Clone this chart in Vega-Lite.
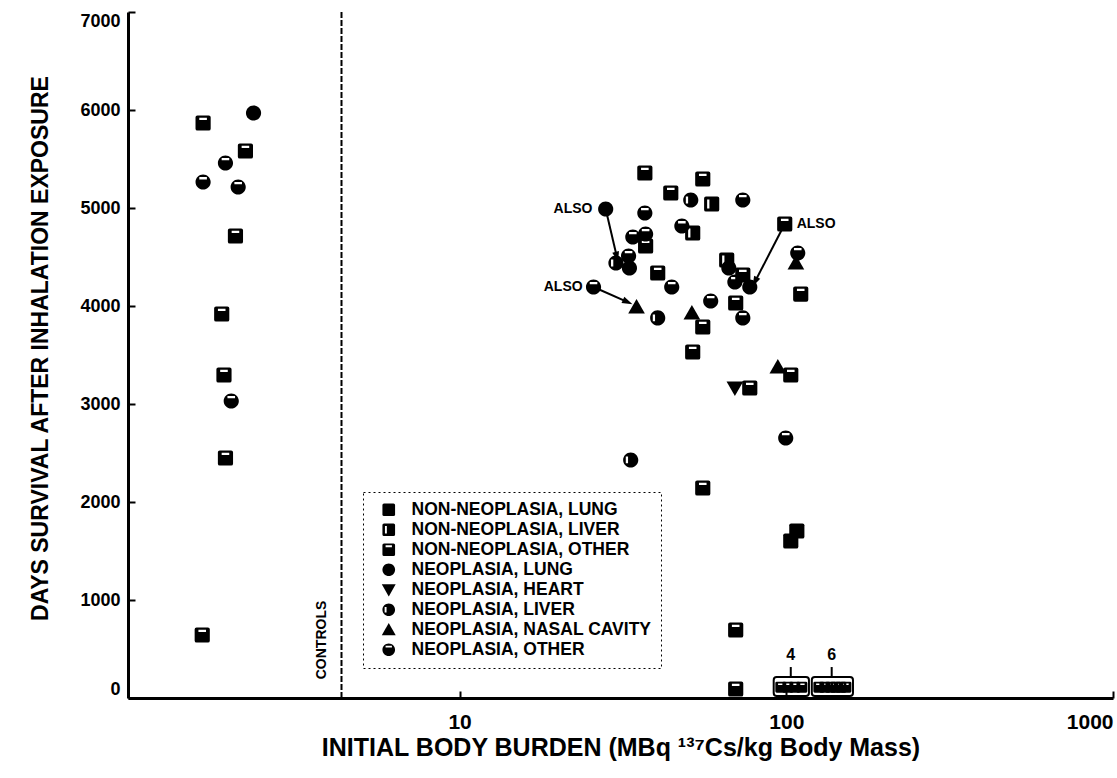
{
  "$schema": "https://vega.github.io/schema/vega-lite/v6.json",
  "width": 985,
  "height": 686,
  "autosize": {"type": "none"},
  "padding": {"left": 128, "top": 12, "right": 4, "bottom": 80},
  "background": "white",
  "config": {
    "font": "Liberation Sans",
    "view": {"stroke": null},
    "axis": {
      "domainColor": "#000", "domainWidth": 3, "tickColor": "#000", "tickWidth": 2, "tickSize": -7,
      "labelFont": "Liberation Sans", "labelFontWeight": "bold", "labelColor": "#000",
      "titleFont": "Liberation Sans", "titleFontWeight": "bold", "titleFontSize": 23, "titleColor": "#000",
      "grid": false, "labelFlush": true
    },
    "axisX": {"labelFontSize": 21},
    "axisY": {"labelFontSize": 18},
    "legend": {"strokeDash": [2, 3]}
  },
  "datasets": {
    "points": [
      {"dose": 1.64, "days": 5867, "cause": "NON-NEOPLASIA, OTHER"},
      {"dose": 2.34, "days": 5969, "cause": "NEOPLASIA, LUNG"},
      {"dose": 2.21, "days": 5582, "cause": "NON-NEOPLASIA, OTHER"},
      {"dose": 1.92, "days": 5459, "cause": "NEOPLASIA, OTHER"},
      {"dose": 1.64, "days": 5265, "cause": "NEOPLASIA, OTHER"},
      {"dose": 2.10, "days": 5214, "cause": "NEOPLASIA, OTHER"},
      {"dose": 2.06, "days": 4714, "cause": "NON-NEOPLASIA, OTHER"},
      {"dose": 1.87, "days": 3918, "cause": "NON-NEOPLASIA, OTHER"},
      {"dose": 1.90, "days": 3296, "cause": "NON-NEOPLASIA, OTHER"},
      {"dose": 2.00, "days": 3031, "cause": "NEOPLASIA, OTHER"},
      {"dose": 1.92, "days": 2449, "cause": "NON-NEOPLASIA, OTHER"},
      {"dose": 1.63, "days": 643, "cause": "NON-NEOPLASIA, OTHER"},
      {"dose": 36.9, "days": 5357, "cause": "NON-NEOPLASIA, OTHER"},
      {"dose": 55.5, "days": 5296, "cause": "NON-NEOPLASIA, OTHER"},
      {"dose": 44.3, "days": 5153, "cause": "NON-NEOPLASIA, OTHER"},
      {"dose": 51.0, "days": 5082, "cause": "NEOPLASIA, LIVER"},
      {"dose": 59.1, "days": 5041, "cause": "NON-NEOPLASIA, LIVER"},
      {"dose": 73.6, "days": 5082, "cause": "NEOPLASIA, OTHER"},
      {"dose": 28.0, "days": 4990, "cause": "NEOPLASIA, LUNG"},
      {"dose": 36.9, "days": 4949, "cause": "NEOPLASIA, OTHER"},
      {"dose": 98.9, "days": 4837, "cause": "NON-NEOPLASIA, OTHER"},
      {"dose": 47.9, "days": 4816, "cause": "NEOPLASIA, OTHER"},
      {"dose": 51.7, "days": 4745, "cause": "NON-NEOPLASIA, LIVER"},
      {"dose": 33.9, "days": 4704, "cause": "NEOPLASIA, OTHER"},
      {"dose": 37.1, "days": 4735, "cause": "NEOPLASIA, OTHER"},
      {"dose": 37.1, "days": 4612, "cause": "NON-NEOPLASIA, OTHER"},
      {"dose": 30.1, "days": 4439, "cause": "NEOPLASIA, LIVER"},
      {"dose": 32.9, "days": 4510, "cause": "NEOPLASIA, OTHER"},
      {"dose": 33.1, "days": 4388, "cause": "NEOPLASIA, LUNG"},
      {"dose": 40.4, "days": 4337, "cause": "NON-NEOPLASIA, OTHER"},
      {"dose": 44.6, "days": 4194, "cause": "NEOPLASIA, OTHER"},
      {"dose": 25.7, "days": 4194, "cause": "NEOPLASIA, OTHER"},
      {"dose": 34.8, "days": 3990, "cause": "NEOPLASIA, NASAL CAVITY"},
      {"dose": 40.4, "days": 3878, "cause": "NEOPLASIA, LIVER"},
      {"dose": 51.4, "days": 3929, "cause": "NEOPLASIA, NASAL CAVITY"},
      {"dose": 55.5, "days": 3786, "cause": "NON-NEOPLASIA, OTHER"},
      {"dose": 51.7, "days": 3531, "cause": "NON-NEOPLASIA, OTHER"},
      {"dose": 58.7, "days": 4051, "cause": "NEOPLASIA, OTHER"},
      {"dose": 70.0, "days": 4031, "cause": "NON-NEOPLASIA, OTHER"},
      {"dose": 73.6, "days": 3878, "cause": "NEOPLASIA, OTHER"},
      {"dose": 110.7, "days": 4122, "cause": "NON-NEOPLASIA, OTHER"},
      {"dose": 94.2, "days": 3378, "cause": "NEOPLASIA, NASAL CAVITY"},
      {"dose": 103.2, "days": 3296, "cause": "NON-NEOPLASIA, OTHER"},
      {"dose": 69.6, "days": 3163, "cause": "NEOPLASIA, HEART"},
      {"dose": 77.3, "days": 3163, "cause": "NON-NEOPLASIA, OTHER"},
      {"dose": 108.4, "days": 4541, "cause": "NEOPLASIA, OTHER"},
      {"dose": 107.0, "days": 4439, "cause": "NEOPLASIA, NASAL CAVITY"},
      {"dose": 65.7, "days": 4469, "cause": "NON-NEOPLASIA, LIVER"},
      {"dose": 66.7, "days": 4388, "cause": "NEOPLASIA, OTHER"},
      {"dose": 73.6, "days": 4316, "cause": "NON-NEOPLASIA, OTHER"},
      {"dose": 69.6, "days": 4245, "cause": "NEOPLASIA, OTHER"},
      {"dose": 77.3, "days": 4194, "cause": "NEOPLASIA, LUNG"},
      {"dose": 33.4, "days": 2429, "cause": "NEOPLASIA, LIVER"},
      {"dose": 55.5, "days": 2143, "cause": "NON-NEOPLASIA, OTHER"},
      {"dose": 99.6, "days": 2653, "cause": "NEOPLASIA, OTHER"},
      {"dose": 107.7, "days": 1704, "cause": "NON-NEOPLASIA, LUNG"},
      {"dose": 103.2, "days": 1602, "cause": "NON-NEOPLASIA, LUNG"},
      {"dose": 70.0, "days": 694, "cause": "NON-NEOPLASIA, OTHER"},
      {"dose": 70.0, "days": 92, "cause": "NON-NEOPLASIA, OTHER"}
    ],
    "boxed": [
      {"dose": 96.2, "days": 110}, {"dose": 101.1, "days": 110}, {"dose": 106.2, "days": 110}, {"dose": 111.6, "days": 110},
      {"dose": 125.8, "days": 110}, {"dose": 131.2, "days": 110}, {"dose": 136.9, "days": 110}, {"dose": 141.8, "days": 110},
      {"dose": 146.9, "days": 110}, {"dose": 152.2, "days": 110}
    ],
    "boxes": [
      {"dose": 91.5, "dose2": 117.3, "days": 20, "days2": 214},
      {"dose": 119.7, "dose2": 160, "days": 20, "days2": 214}
    ],
    "arrows": [
      {"dose": 28.0, "days": 4990, "dose2": 30.3, "days2": 4500},
      {"dose": 25.7, "days": 4194, "dose2": 32.7, "days2": 4040},
      {"dose": 98.9, "days": 4837, "dose2": 80.1, "days2": 4245}
    ]
  },
  "encoding": {
    "x": {
      "field": "dose", "type": "quantitative",
      "scale": {"type": "log", "domain": [0.966, 1000]},
      "axis": {
        "title": "INITIAL BODY BURDEN (MBq ¹³⁷Cs/kg Body Mass)",
        "values": [10, 100, 1000], "format": "d", "labelPadding": 20,
        "titleFontSize": 25, "titleY": 49, "titleBaseline": "middle"
      }
    },
    "y": {
      "field": "days", "type": "quantitative",
      "scale": {"domain": [0, 7000]},
      "axis": {
        "title": "DAYS SURVIVAL AFTER INHALATION EXPOSURE",
        "values": [0, 1000, 2000, 3000, 4000, 5000, 6000, 7000], "format": "d", "labelPadding": 15,
        "titleX": -88, "titleY": 336, "titleAngle": -90, "titleBaseline": "middle", "titleAlign": "center"
      }
    }
  },
  "layer": [
    {
      "data": {"values": [{"dose": 4.35, "days": 0, "days2": 7000}]},
      "mark": {"type": "rule", "color": "black", "strokeWidth": 2, "strokeDash": [6, 2]},
      "encoding": {"y2": {"field": "days2"}}
    },
    {
      "data": {"name": "arrows"},
      "mark": {"type": "rule", "color": "black", "strokeWidth": 2},
      "encoding": {"x2": {"field": "dose2"}, "y2": {"field": "days2"}}
    },
    {
      "data": {"values": [{"dose": 30.3, "days": 4500}]},
      "mark": {"type": "point", "filled": true, "color": "black", "opacity": 1, "size": 110, "angle": 166, "shape": "M0,-1L0.65,1H-0.65Z"}
    },
    {
      "data": {"values": [{"dose": 32.7, "days": 4040}]},
      "mark": {"type": "point", "filled": true, "color": "black", "opacity": 1, "size": 110, "angle": 114, "shape": "M0,-1L0.65,1H-0.65Z"}
    },
    {
      "data": {"values": [{"dose": 80.1, "days": 4245}]},
      "mark": {"type": "point", "filled": true, "color": "black", "opacity": 1, "size": 110, "angle": 207, "shape": "M0,-1L0.65,1H-0.65Z"}
    },
    {
      "data": {"name": "boxed"},
      "mark": {"type": "point", "filled": true, "color": "black", "opacity": 1, "size": 120, "strokeWidth": 0,
        "shape": "M-0.75,-1H0.75Q1,-1 1,-0.75V0.75Q1,1 0.75,1H-0.75Q-1,1 -1,0.75V-0.75Q-1,-1 -0.75,-1ZM-0.5,-0.7V-0.4H0.5V-0.7Z"}
    },
    {
      "data": {"name": "boxes"},
      "mark": {"type": "rect", "fill": "transparent", "stroke": "black", "strokeWidth": 2, "cornerRadius": 3},
      "encoding": {"x2": {"field": "dose2"}, "y2": {"field": "days2"}}
    },
    {
      "data": {"values": [{"dose": 103.2, "days": 214, "days2": 316}, {"dose": 137.7, "days": 214, "days2": 316}]},
      "mark": {"type": "rule", "color": "black", "strokeWidth": 2},
      "encoding": {"y2": {"field": "days2"}}
    },
    {
      "data": {"name": "points"},
      "mark": {"type": "point", "filled": true, "color": "black", "opacity": 1, "size": 230, "strokeWidth": 0},
      "encoding": {
        "shape": {
          "field": "cause", "type": "nominal",
          "scale": {
            "domain": ["NON-NEOPLASIA, LUNG", "NON-NEOPLASIA, LIVER", "NON-NEOPLASIA, OTHER", "NEOPLASIA, LUNG", "NEOPLASIA, HEART", "NEOPLASIA, LIVER", "NEOPLASIA, NASAL CAVITY", "NEOPLASIA, OTHER"],
            "range": [
              "M-0.75,-1H0.75Q1,-1 1,-0.75V0.75Q1,1 0.75,1H-0.75Q-1,1 -1,0.75V-0.75Q-1,-1 -0.75,-1Z",
              "M-0.75,-1H0.75Q1,-1 1,-0.75V0.75Q1,1 0.75,1H-0.75Q-1,1 -1,0.75V-0.75Q-1,-1 -0.75,-1ZM-0.6,-0.6V0.6H-0.3V-0.6Z",
              "M-0.75,-1H0.75Q1,-1 1,-0.75V0.75Q1,1 0.75,1H-0.75Q-1,1 -1,0.75V-0.75Q-1,-1 -0.75,-1ZM-0.5,-0.7V-0.4H0.5V-0.7Z",
              "M-1,0A1,1,0,1,1,1,0A1,1,0,1,1,-1,0Z",
              "M-1.1,-0.85H1.1L0,1.05Z",
              "M-1,0A1,1,0,1,1,1,0A1,1,0,1,1,-1,0ZM-0.65,-0.45V0.45H-0.35V-0.45Z",
              "M0,-1.05L1.1,0.85H-1.1Z",
              "M-1,0A1,1,0,1,1,1,0A1,1,0,1,1,-1,0ZM-0.5,-0.65V-0.35H0.5V-0.65Z"
            ]
          },
          "legend": {
            "orient": "none", "legendX": 235, "legendY": 480, "title": null,
            "padding": 9, "symbolOffset": 8, "labelOffset": 14, "rowPadding": 1, "symbolSize": 160,
            "labelFont": "Liberation Sans", "labelFontWeight": "bold", "labelFontSize": 17.5, "labelColor": "black", "labelLimit": 400,
            "strokeColor": "black",
            "symbolFillColor": "black", "symbolStrokeWidth": 0
          }
        }
      }
    },
    {
      "data": {"values": [{"dose": 25.5, "days": 4990, "label": "ALSO"}, {"dose": 23.8, "days": 4194, "label": "ALSO"}]},
      "mark": {"type": "text", "align": "right", "baseline": "middle", "font": "Liberation Sans", "fontWeight": "bold", "fontSize": 14, "color": "black"},
      "encoding": {"text": {"field": "label"}}
    },
    {
      "data": {"values": [{"dose": 107.6, "days": 4837, "label": "ALSO"}]},
      "mark": {"type": "text", "align": "left", "baseline": "middle", "font": "Liberation Sans", "fontWeight": "bold", "fontSize": 14, "color": "black"},
      "encoding": {"text": {"field": "label"}}
    },
    {
      "data": {"values": [{"dose": 3.78, "days": 592, "label": "CONTROLS"}]},
      "mark": {"type": "text", "align": "center", "baseline": "middle", "angle": 270, "font": "Liberation Sans", "fontWeight": "bold", "fontSize": 14, "color": "black"},
      "encoding": {"text": {"field": "label"}}
    },
    {
      "data": {"values": [{"dose": 103.2, "days": 439, "label": "4"}, {"dose": 137.7, "days": 439, "label": "6"}]},
      "mark": {"type": "text", "align": "center", "baseline": "middle", "font": "Liberation Sans", "fontWeight": "bold", "fontSize": 16, "color": "black"},
      "encoding": {"text": {"field": "label"}}
    }
  ]
}
